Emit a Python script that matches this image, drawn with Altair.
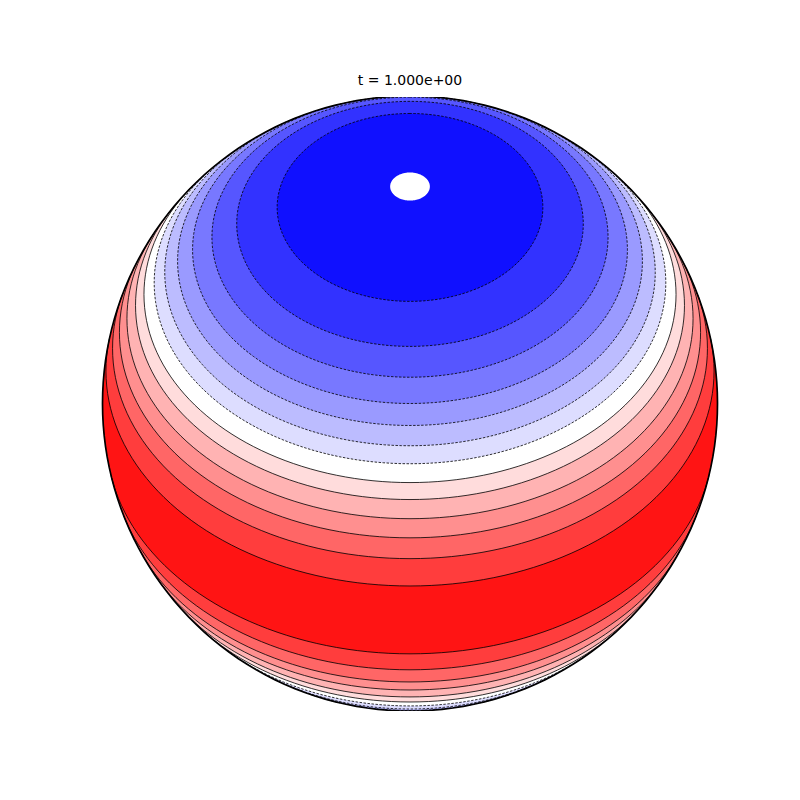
import altair as alt

# Contour boundaries (degrees latitude), north to south
boundary_lats = [64.4, 55.7, 49.9, 45.0, 40.9, 37.1, 33.7, 30.1, 26.8, 23.0, 19.1, 14.7, 8.6,
                 -9.5, -15.0, -19.9, -23.7, -27.6, -31.1, -34.6, -38.5, -42.0, -46.0, -50.5, -56.0, -64.5]
# Band north of each boundary
band_colors = ["#1010ff", "#3232ff", "#5656ff", "#7878ff", "#9a9aff", "#bcbcff", "#ddddff", "#ffffff",
               "#ffdcdc", "#ffb3b3", "#ff8f8f", "#ff6666", "#ff3d3d", "#ff1414",
               "#ff3d3d", "#ff6666", "#ff8f8f", "#ffb3b3", "#ffdcdc", "#ffffff",
               "#ddddff", "#bcbcff", "#9a9aff", "#7878ff", "#5656ff", "#3232ff"]
south_color = "#1010ff"
dashed_flags = [True] * 7 + [False] * 12 + [True] * 7
hole_lat = 86.3
title_text = "t = 1.000e+00"

cap_lons = list(range(0, -361, -2))
line_lons = list(range(-180, 181, 2))


def cap(lat, color):
    ring = [[lon, lat] for lon in cap_lons]
    return {"type": "Feature", "properties": {"color": color},
            "geometry": {"type": "Polygon", "coordinates": [ring]}}


def circle(lat):
    return {"type": "Feature", "properties": {},
            "geometry": {"type": "LineString", "coordinates": [[lon, lat] for lon in line_lons]}}


caps = [cap(lat, c) for lat, c in zip(reversed(boundary_lats), reversed(band_colors))]
caps.append(cap(hole_lat, "#ffffff"))
solid = [circle(lat) for lat, d in zip(boundary_lats, dashed_flags) if not d]
dashed = [circle(lat) for lat, d in zip(boundary_lats, dashed_flags) if d]

proj = dict(type="orthographic", rotate=[0, -45, 0], scale=307.5, translate=[310, 306.5], clipAngle=90)

base = alt.Chart(alt.sphere()).mark_geoshape(fill=south_color, strokeWidth=0).project(**proj)
bands = alt.Chart(alt.Data(values=caps)).mark_geoshape(strokeWidth=0).encode(
    fill=alt.Fill("properties.color:N", scale=None)).project(**proj)
lines_solid = alt.Chart(alt.Data(values=solid)).mark_geoshape(
    filled=False, stroke="#000000", strokeWidth=0.8).project(**proj)
lines_dashed = alt.Chart(alt.Data(values=dashed)).mark_geoshape(
    filled=False, stroke="#000000", strokeWidth=0.8, strokeDash=[2.5, 1.5]).project(**proj)
outline = alt.Chart(alt.sphere()).mark_geoshape(
    filled=False, stroke="#000000", strokeWidth=1.7).project(**proj)

chart = alt.layer(base, bands, lines_solid, lines_dashed, outline).properties(
    width=620, height=614,
    title=alt.TitleParams(title_text, font="DejaVu Sans", fontSize=14, fontWeight="normal",
                          color="#000000", anchor="middle", offset=9),
    padding={"left": 92, "top": 89, "right": 0, "bottom": 0},
    autosize=alt.AutoSizeParams(type="none"),
).configure_view(stroke=None)

chart.save("out.html", embed_options={"renderer": "svg", "actions": False})
